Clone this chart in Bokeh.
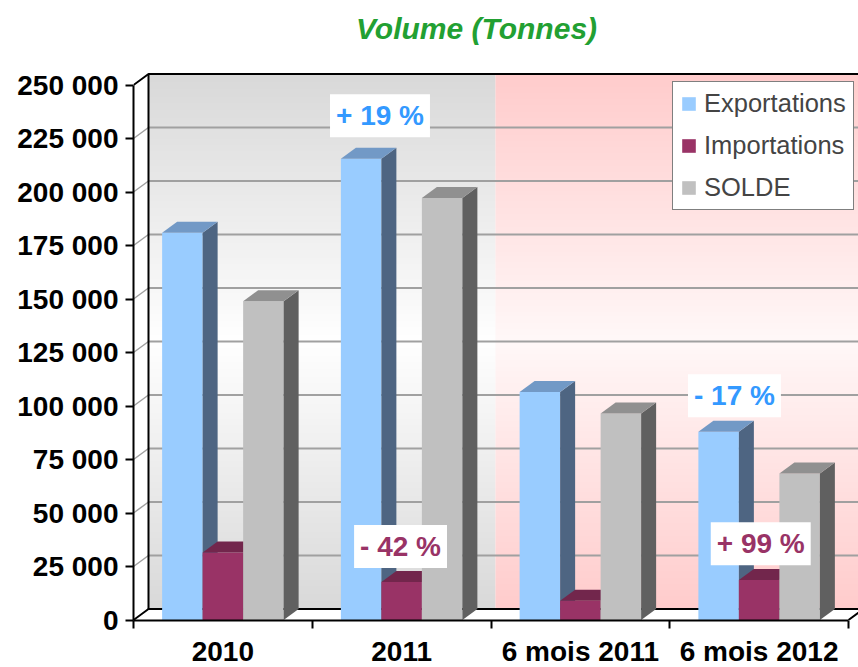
import numpy as np
from bokeh.plotting import figure
from bokeh.models import FixedTicker, Legend, LegendItem, Label, Range1d
from bokeh.embed import file_html
from bokeh.resources import INLINE

# ---------------- data ----------------
title_text = "Volume (Tonnes)"
categories = ["2010", "2011", "6 mois 2011", "6 mois 2012"]
series_names = ["Exportations", "Importations", "SOLDE"]
exportations = [181000, 215500, 106500, 88000]
importations = [31500, 17800, 9000, 18700]
solde = [149000, 197200, 96500, 68500]
y_ticks = [0, 25000, 50000, 75000, 100000, 125000, 150000, 175000, 200000, 225000, 250000]
y_tick_labels = ["0", "25 000", "50 000", "75 000", "100 000", "125 000", "150 000",
                 "175 000", "200 000", "225 000", "250 000"]
ann_texts = ["+ 19 %", "- 42 %", "- 17 %", "+ 99 %"]
ann_colors = ["#3399ff", "#993366", "#3399ff", "#993366"]
ann_x = [1.379, 1.494, 3.362, 3.509]
ann_y = [235600, 34350, 104770, 35600]

# ---------------- geometry ----------------
PX_X = 178.75                 # pixels per category
PX_Y = 535.0 / 250000.0       # pixels per tonne
FRAME_W, FRAME_H = 725, 620   # frame includes the title area at the top
DX = 15 / PX_X                # depth offset (x)
DY = 11 / PX_Y                # depth offset (y)
BAR_W = 40.5 / PX_X
YMAX = y_ticks[-1]
NCAT = len(categories)
x_end = FRAME_W / PX_X
y_start = -0.5 / PX_Y
y_end = (FRAME_H - 0.5) / PX_Y

FONT = "Liberation Sans"

p = figure(title=None, frame_width=FRAME_W, frame_height=FRAME_H,
           x_range=Range1d(0, x_end), y_range=Range1d(y_start, y_end),
           min_border_left=133, min_border_right=0, min_border_top=0, min_border_bottom=47,
           output_backend="svg", toolbar_location=None)
p.outline_line_color = None
p.xgrid.visible = False
p.ygrid.visible = False
p.background_fill_color = "white"
p.border_fill_color = "white"

# ---------------- back wall gradients ----------------
def gradient(edge, mid, n=256):
    t = np.linspace(0.0, 1.0, n)
    w = 1.0 - np.abs(2.0 * t - 1.0)
    e = np.array(edge, dtype=float)
    m = np.array(mid, dtype=float)
    cols = e[None, :] + (m - e)[None, :] * w[:, None]
    img = np.empty((n, 1), dtype=np.uint32)
    v = img.view(dtype=np.uint8).reshape((n, 1, 4))
    v[:, 0, 0] = cols[:, 0].astype(np.uint8)
    v[:, 0, 1] = cols[:, 1].astype(np.uint8)
    v[:, 0, 2] = cols[:, 2].astype(np.uint8)
    v[:, 0, 3] = 255
    return img

split = 2.025
p.image_rgba(image=[gradient((217, 217, 217), (255, 255, 255))], x=DX, y=DY,
             dw=split - DX, dh=YMAX)
p.image_rgba(image=[gradient((255, 204, 204), (255, 248, 248))], x=split, y=DY,
             dw=x_end - split + 0.2, dh=YMAX)

# side wall and floor
p.patch([0, DX, DX, 0], [0, DY, YMAX + DY, YMAX], fill_color="white", line_color=None)
p.patch([0, NCAT, NCAT + DX, DX], [0, 0, DY, DY], fill_color="white", line_color=None)

# gridlines on back wall and side wall
inner = [v for v in y_ticks if 0 < v < YMAX]
p.segment(x0=[DX] * len(inner), y0=[v + DY for v in inner],
          x1=[x_end + 1] * len(inner), y1=[v + DY for v in inner],
          line_color="#a0a0a0", line_width=2)
p.segment(x0=[0] * len(inner), y0=inner, x1=[DX] * len(inner), y1=[v + DY for v in inner],
          line_color="#a0a0a0", line_width=1.5)

# black wall edges
p.multi_line(xs=[[DX, DX], [0, DX, x_end + 1], [0, DX, NCAT + DX, NCAT]],
             ys=[[DY, YMAX + DY], [YMAX, YMAX + DY, YMAX + DY], [0, DY, DY, 0]],
             line_color="black", line_width=2)

# ---------------- 3D bars ----------------
values = [exportations, importations, solde]
front_cols = ["#99ccff", "#993366", "#c0c0c0"]
top_cols = ["#7299c6", "#72264c", "#909090"]
side_cols = ["#4e6582", "#5e1f3f", "#606060"]
legend_items = []
for j, vals in enumerate(values):
    xl = [i + 0.5 - 1.5 * BAR_W + j * BAR_W for i in range(NCAT)]
    xr = [x + BAR_W for x in xl]
    r = p.quad(left=xl, right=xr, bottom=[0] * NCAT, top=vals,
               fill_color=front_cols[j], line_color=None)
    p.patches(xs=[[a, a + DX, a + DX, a] for a in xr],
              ys=[[0, DY, v + DY, v] for v in vals],
              fill_color=side_cols[j], line_color=None)
    p.patches(xs=[[a, b, b + DX, a + DX] for a, b in zip(xl, xr)],
              ys=[[v, v, v + DY, v + DY] for v in vals],
              fill_color=top_cols[j], line_color=None)
    legend_items.append(LegendItem(label=series_names[j], renderers=[r]))

# ---------------- annotations ----------------
for t, c, x, y in zip(ann_texts, ann_colors, ann_x, ann_y):
    p.add_layout(Label(x=x, y=y, text=t, text_align="center", text_baseline="middle",
                       text_font=FONT, text_font_size="28px", text_font_style="bold",
                       text_color=c, background_fill_color="white",
                       background_fill_alpha=1.0, padding=6))

# chart title (top of the frame, above the 3D box)
p.add_layout(Label(x=(476 - 133) / PX_X, y=(619.5 - 28) / PX_Y, text=title_text,
                   text_align="center", text_baseline="middle",
                   text_font=FONT, text_font_size="30px", text_font_style="bold italic",
                   text_color="#22a032"))

# ---------------- legend ----------------
legend = Legend(items=legend_items, location=(539, 410))
legend.label_text_font = FONT
legend.label_text_font_size = "25.5px"
legend.glyph_width = 17
legend.glyph_height = 17
legend.label_standoff = 7
legend.spacing = 13
legend.padding = 7
legend.margin = 0
legend.border_line_color = "black"
legend.border_line_width = 1.5
legend.background_fill_color = "white"
legend.background_fill_alpha = 1.0
p.add_layout(legend)

# ---------------- axes ----------------
yax = p.yaxis[0]
yax.ticker = FixedTicker(ticks=y_ticks)
yax.major_label_overrides = {v: s for v, s in zip(y_ticks, y_tick_labels)}
yax.bounds = (0, YMAX)
yax.axis_line_width = 2
yax.axis_line_color = "black"
yax.major_tick_out = 8
yax.major_tick_in = 0
yax.major_tick_line_width = 2
yax.minor_tick_out = 0
yax.minor_tick_in = 0
yax.major_label_standoff = 7
yax.major_label_text_font = FONT
yax.major_label_text_font_size = "28px"
yax.major_label_text_font_style = "bold"
yax.major_label_text_color = "black"

xax = p.xaxis[0]
centers = [i + 0.5 for i in range(NCAT)]
xax.ticker = FixedTicker(ticks=centers, minor_ticks=list(range(NCAT + 1)))
xax.major_label_overrides = {c: s for c, s in zip(centers, categories)}
xax.bounds = (0, NCAT)
xax.axis_line_width = 2
xax.axis_line_color = "black"
xax.major_tick_out = 0
xax.major_tick_in = 0
xax.minor_tick_out = 8
xax.minor_tick_in = 0
xax.minor_tick_line_width = 2
xax.minor_tick_line_color = "black"
xax.major_label_standoff = 7
xax.major_label_text_font = FONT
xax.major_label_text_font_size = "28px"
xax.major_label_text_font_style = "bold"
xax.major_label_text_color = "black"

open("out.html", "w").write(file_html(p, INLINE))
